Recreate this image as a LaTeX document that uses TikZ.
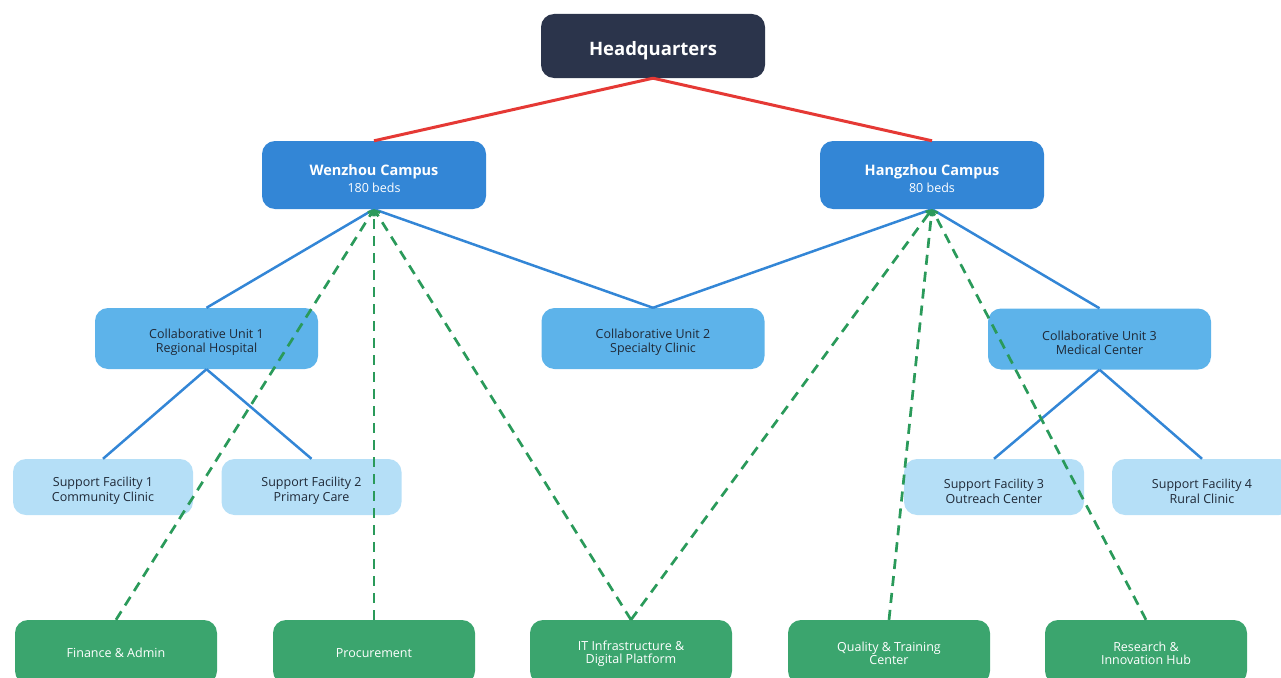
\documentclass[tikz,border=0pt]{standalone}
\usepackage{fontspec}
\setmainfont{Open Sans}
\usetikzlibrary{arrows.meta}
\definecolor{hq}{HTML}{2B344B}
\definecolor{campus}{HTML}{3386D6}
\definecolor{unit}{HTML}{5DB3EA}
\definecolor{facil}{HTML}{B5DFF7}
\definecolor{dept}{HTML}{3BA56E}
\definecolor{redline}{HTML}{E53935}
\definecolor{blueline}{HTML}{3386D6}
\definecolor{greenline}{HTML}{2A9A5A}
\definecolor{darktext}{HTML}{1F2937}
\tikzset{
  box/.style={rectangle, rounded corners=13pt, align=center, inner sep=0pt, draw=none},
  hqbox/.style={box, fill=hq, text=white, minimum width=224pt, minimum height=64pt, text height=23pt, font=\fontsize{18.5}{22}\selectfont\bfseries},
  campusbox/.style={box, fill=campus, text=white, minimum width=224pt, minimum height=68pt, text height=36pt, font=\fontsize{12.5}{17}\selectfont},
  unitbox/.style={box, fill=unit, text=darktext, minimum width=223pt, minimum height=61pt, text height=30.5pt, font=\fontsize{12.5}{14}\selectfont},
  facilbox/.style={box, fill=facil, text=darktext, minimum width=180pt, minimum height=56pt, text height=32.5pt, font=\fontsize{12.5}{15}\selectfont},
  deptbox/.style={box, fill=dept, text=white, minimum width=202pt, minimum height=64pt, text height=11pt, font=\fontsize{12.5}{13.5}\selectfont},
  depttwo/.style={deptbox, text height=26pt},
  redlink/.style={draw=redline, line width=3pt},
  bluelink/.style={draw=blueline, line width=2.5pt},
  greenlink/.style={draw=greenline, line width=2.7pt, dash pattern=on 10pt off 7pt, -{Straight Barb[length=4pt,width=7pt]}},
}
\begin{document}
\begin{tikzpicture}[x=1pt,y=-1pt]
\useasboundingbox (0,0) rectangle (1281,677);
% nodes
\node[hqbox] (hq) at (653,46) {Headquarters};
\node[campusbox] (wz) at (374,175) {{\bfseries\fontsize{14.5}{17}\selectfont Wenzhou Campus}\\180 beds};
\node[campusbox] (hz) at (932,175) {{\bfseries\fontsize{14.5}{17}\selectfont Hangzhou Campus}\\80 beds};
\node[unitbox] (cu1) at (206.5,338.5) {Collaborative Unit 1\\Regional Hospital};
\node[unitbox] (cu2) at (653,338.5) {Collaborative Unit 2\\Specialty Clinic};
\node[unitbox] (cu3) at (1099.5,339) {Collaborative Unit 3\\Medical Center};
\node[facilbox] (sf1) at (103,487) {Support Facility 1\\Community Clinic};
\node[facilbox] (sf2) at (311.5,487) {Support Facility 2\\Primary Care};
\node[facilbox] (sf3) at (994,487) {Support Facility 3\\Outreach Center};
\node[facilbox] (sf4) at (1202,487) {Support Facility 4\\Rural Clinic};
\node[deptbox] (fin) at (116,652) {Finance \& Admin};
\node[deptbox] (proc) at (374,652) {Procurement};
\node[depttwo] (it) at (631,652) {IT Infrastructure \&\\Digital Platform};
\node[depttwo] (qual) at (889,652) {Quality \& Training\\Center};
\node[depttwo] (res) at (1146,652) {Research \&\\Innovation Hub};
% red links
\draw[redlink] (hq.south) -- (wz.north);
\draw[redlink] (hq.south) -- (hz.north);
% blue links
\draw[bluelink] (wz.south) -- (cu1.north);
\draw[bluelink] (wz.south) -- (cu2.north);
\draw[bluelink] (hz.south) -- (cu2.north);
\draw[bluelink] (hz.south) -- (cu3.north);
\draw[bluelink] (cu1.south) -- (sf1.north);
\draw[bluelink] (cu1.south) -- (sf2.north);
\draw[bluelink] (cu3.south) -- (sf3.north);
\draw[bluelink] (cu3.south) -- (sf4.north);
% green dashed links
\draw[greenlink] (fin.north) -- (wz.south);
\draw[greenlink] (proc.north) -- (wz.south);
\draw[greenlink] (it.north) -- (wz.south);
\draw[greenlink] (it.north) -- (hz.south);
\draw[greenlink] (qual.north) -- (hz.south);
\draw[greenlink] (res.north) -- (hz.south);
\end{tikzpicture}
\end{document}
